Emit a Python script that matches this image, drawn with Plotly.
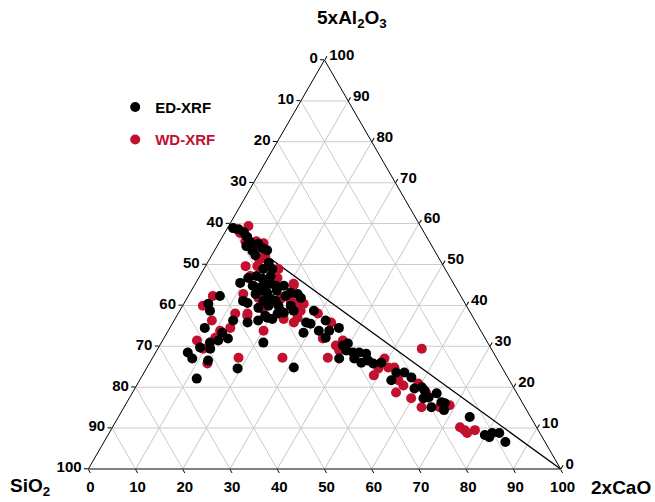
import plotly.graph_objects as go

# ---- data (Al2O3-scaled and CaO-scaled components, %; SiO2 = remainder) ----
ed_al2o3 = [58.9, 58.6, 57.9, 56.7, 55.5, 54.5, 53.3, 52.3, 54.0, 53.5, 55.0,
            50.4, 48.9, 48.9, 47.2, 46.7, 45.5, 46.5, 45.3, 44.8, 42.8, 43.1, 44.3, 43.1, 42.8,
            40.6, 41.1, 39.9, 41.1, 38.7, 37.5, 36.7, 36.3, 39.9, 42.3, 41.8, 43.6, 44.8, 41.1,
            37.0, 38.0, 36.3, 35.8, 39.4, 47.2, 44.8, 43.6, 41.6, 39.9, 44.8, 38.7,
            42.3, 40.4, 38.7, 34.5, 33.3, 31.4, 31.9, 30.9, 29.7, 29.4, 28.5, 27.0, 26.5,
            30.9, 24.6, 22.1, 24.8,
            38.2, 38.7, 35.8, 35.5, 36.3, 33.3, 33.8, 33.8, 34.5, 32.1, 30.2, 30.7, 29.0,
            28.5, 28.5, 28.2, 26.5, 26.0, 27.0, 27.0, 26.0,
            25.8, 23.6, 23.6, 22.4, 21.7, 19.7, 20.0, 19.2, 18.5, 17.5, 17.3, 15.1, 16.3,
            14.4, 12.7, 16.1,
            8.3, 8.8, 8.8, 6.6, 7.8]
ed_cao = [1.2, 2.5, 4.0, 5.3, 6.5, 6.2, 8.1, 9.2, 9.9, 11.1, 8.5,
          13.0, 14.5, 12.6, 12.0, 10.5, 9.4, 13.6, 15.9, 19.0, 22.9, 21.3, 14.3, 16.3, 14.0,
          13.4, 16.5, 18.2, 19.1, 21.3, 18.7, 20.6, 17.8, 22.9, 20.6, 24.1, 18.1, 12.4, 12.2,
          19.4, 21.1, 12.5, 15.8, 16.3, 15.0, 17.3, 15.1, 17.8, 20.3, 15.1, 24.1,
          6.7, 5.2, 6.4, 7.4, 11.7, 11.8, 13.6, 10.3, 8.8, 11.1, 6.8, 8.5, 12.1,
          21.6, 19.3, 11.9, 31.1,
          22.3, 28.4, 28.2, 29.3, 32.1, 28.9, 31.9, 34.1, 35.8, 34.2, 38.8, 39.6, 40.1,
          41.8, 43.1, 44.7, 46.0, 44.8, 42.8, 39.6, 49.0,
          47.4, 53.4, 55.1, 57.2, 53.3, 59.2, 60.6, 61.6, 64.5, 63.3, 62.3, 65.1, 66.6,
          68.1, 74.4, 67.4,
          79.8, 81.1, 82.6, 85.0, 81.0]

wd_al2o3 = [59.4, 57.7, 55.7, 54.0, 55.2, 55.7, 51.6,
            51.3, 49.6, 52.1, 47.2, 46.7, 45.3, 45.3, 42.8, 41.6, 41.8, 41.1, 38.7, 39.2,
            37.5, 36.7, 48.9, 49.6, 33.8, 44.8, 38.0, 34.5, 38.0,
            42.3, 39.9, 36.3, 33.8, 32.1, 31.4, 29.4, 25.8, 27.2, 27.2,
            45.0, 40.4, 40.4, 38.0, 37.0, 35.8, 35.8, 31.9, 30.2, 31.4, 29.0, 27.2, 27.0,
            24.6, 22.9,
            29.4, 24.8, 24.8, 21.7, 20.4, 18.7, 20.9, 18.5, 17.3, 15.1, 15.1, 15.6,
            10.2, 9.5, 8.8, 9.5]
wd_cao = [4.2, 3.3, 7.7, 8.0, 9.5, 5.4, 10.2,
          10.8, 11.0, 11.4, 10.7, 16.7, 16.5, 20.8, 11.4, 19.9, 15.1, 22.3, 25.6, 17.3,
          14.9, 23.0, 15.8, 8.5, 20.2, 12.6, 12.1, 12.8, 14.7,
          5.2, 4.3, 8.0, 11.0, 10.8, 7.3, 9.6, 12.3, 18.2, 27.5,
          21.0, 23.7, 25.4, 29.6, 25.8, 25.6, 33.5, 33.7, 37.3, 38.2, 38.6, 37.1, 49.2,
          49.1, 49.0,
          55.9, 51.1, 52.4, 54.8, 56.5, 55.8, 59.4, 62.3, 59.7, 63.0, 66.8, 68.7,
          73.6, 74.9, 75.8, 77.1]

line_al2o3 = [59.0, 0.0]
line_cao = [0.0, 100.0]

tick_vals = [0, 10, 20, 30, 40, 50, 60, 70, 80, 90, 100]
tick_labels = ["100", "90", "80", "70", "60", "50", "40", "30", "20", "10", "0"]

series_names = ["ED-XRF", "WD-XRF"]
axis_titles = ["5xAl<sub>2</sub>O<sub>3</sub>", "SiO<sub>2</sub>", "2xCaO"]
ed_color = "#000000"
wd_color = "#c2102f"

FONT = "Liberation Sans, Arial, sans-serif"

fig = go.Figure()

fig.add_trace(go.Scatterternary(
    a=line_al2o3, c=line_cao, mode="lines",
    line=dict(color="black", width=1.3), showlegend=False, hoverinfo="skip"))

fig.add_trace(go.Scatterternary(
    a=wd_al2o3, c=wd_cao, mode="markers",
    name="<span style='color:%s'><b>%s</b></span>" % (wd_color, series_names[1]),
    legendgroup="wd", legendrank=2,
    marker=dict(color=wd_color, size=10, line=dict(width=0))))
fig.add_trace(go.Scatterternary(
    a=ed_al2o3, c=ed_cao, mode="markers", name="<b>%s</b>" % series_names[0],
    legendgroup="ed", legendrank=1,
    marker=dict(color=ed_color, size=10, line=dict(width=0))))

axis_common = dict(
    tickmode="array", tickvals=tick_vals, ticktext=tick_labels,
    ticks="outside", ticklen=4, tickcolor="black", tickwidth=1,
    linecolor="black", linewidth=1, showline=True,
    showgrid=True, gridcolor="#cccccc", gridwidth=1, min=0,
    tickfont=dict(family=FONT, size=15, color="black", weight="bold"),
    title=dict(text=""),
)

title_font = dict(family=FONT, size=19, color="black", weight="bold")

fig.update_layout(
    width=655, height=502,
    margin=dict(l=80, r=86, t=60, b=33, autoexpand=False),
    paper_bgcolor="white",
    font=dict(family=FONT, color="black"),
    ternary=dict(
        sum=100,
        bgcolor="white",
        aaxis=dict(**axis_common),
        baxis=dict(**axis_common),
        caxis=dict(**axis_common),
    ),
    legend=dict(
        x=0.072, y=0.925,
        xanchor="left", yanchor="top",
        font=dict(family=FONT, size=15),
        tracegroupgap=10, itemsizing="trace",
        bgcolor="rgba(0,0,0,0)",
    ),
    annotations=[
        dict(text=axis_titles[0], xref="paper", yref="paper", x=0.556, y=1.10,
             xanchor="center", yanchor="middle", showarrow=False, font=title_font),
        dict(text=axis_titles[1], xref="paper", yref="paper", x=-0.102, y=-0.045,
             xanchor="center", yanchor="middle", showarrow=False, font=title_font),
        dict(text=axis_titles[2], xref="paper", yref="paper", x=1.106, y=-0.045,
             xanchor="center", yanchor="middle", showarrow=False, font=title_font),
    ],
)

fig.write_html("out.html")
